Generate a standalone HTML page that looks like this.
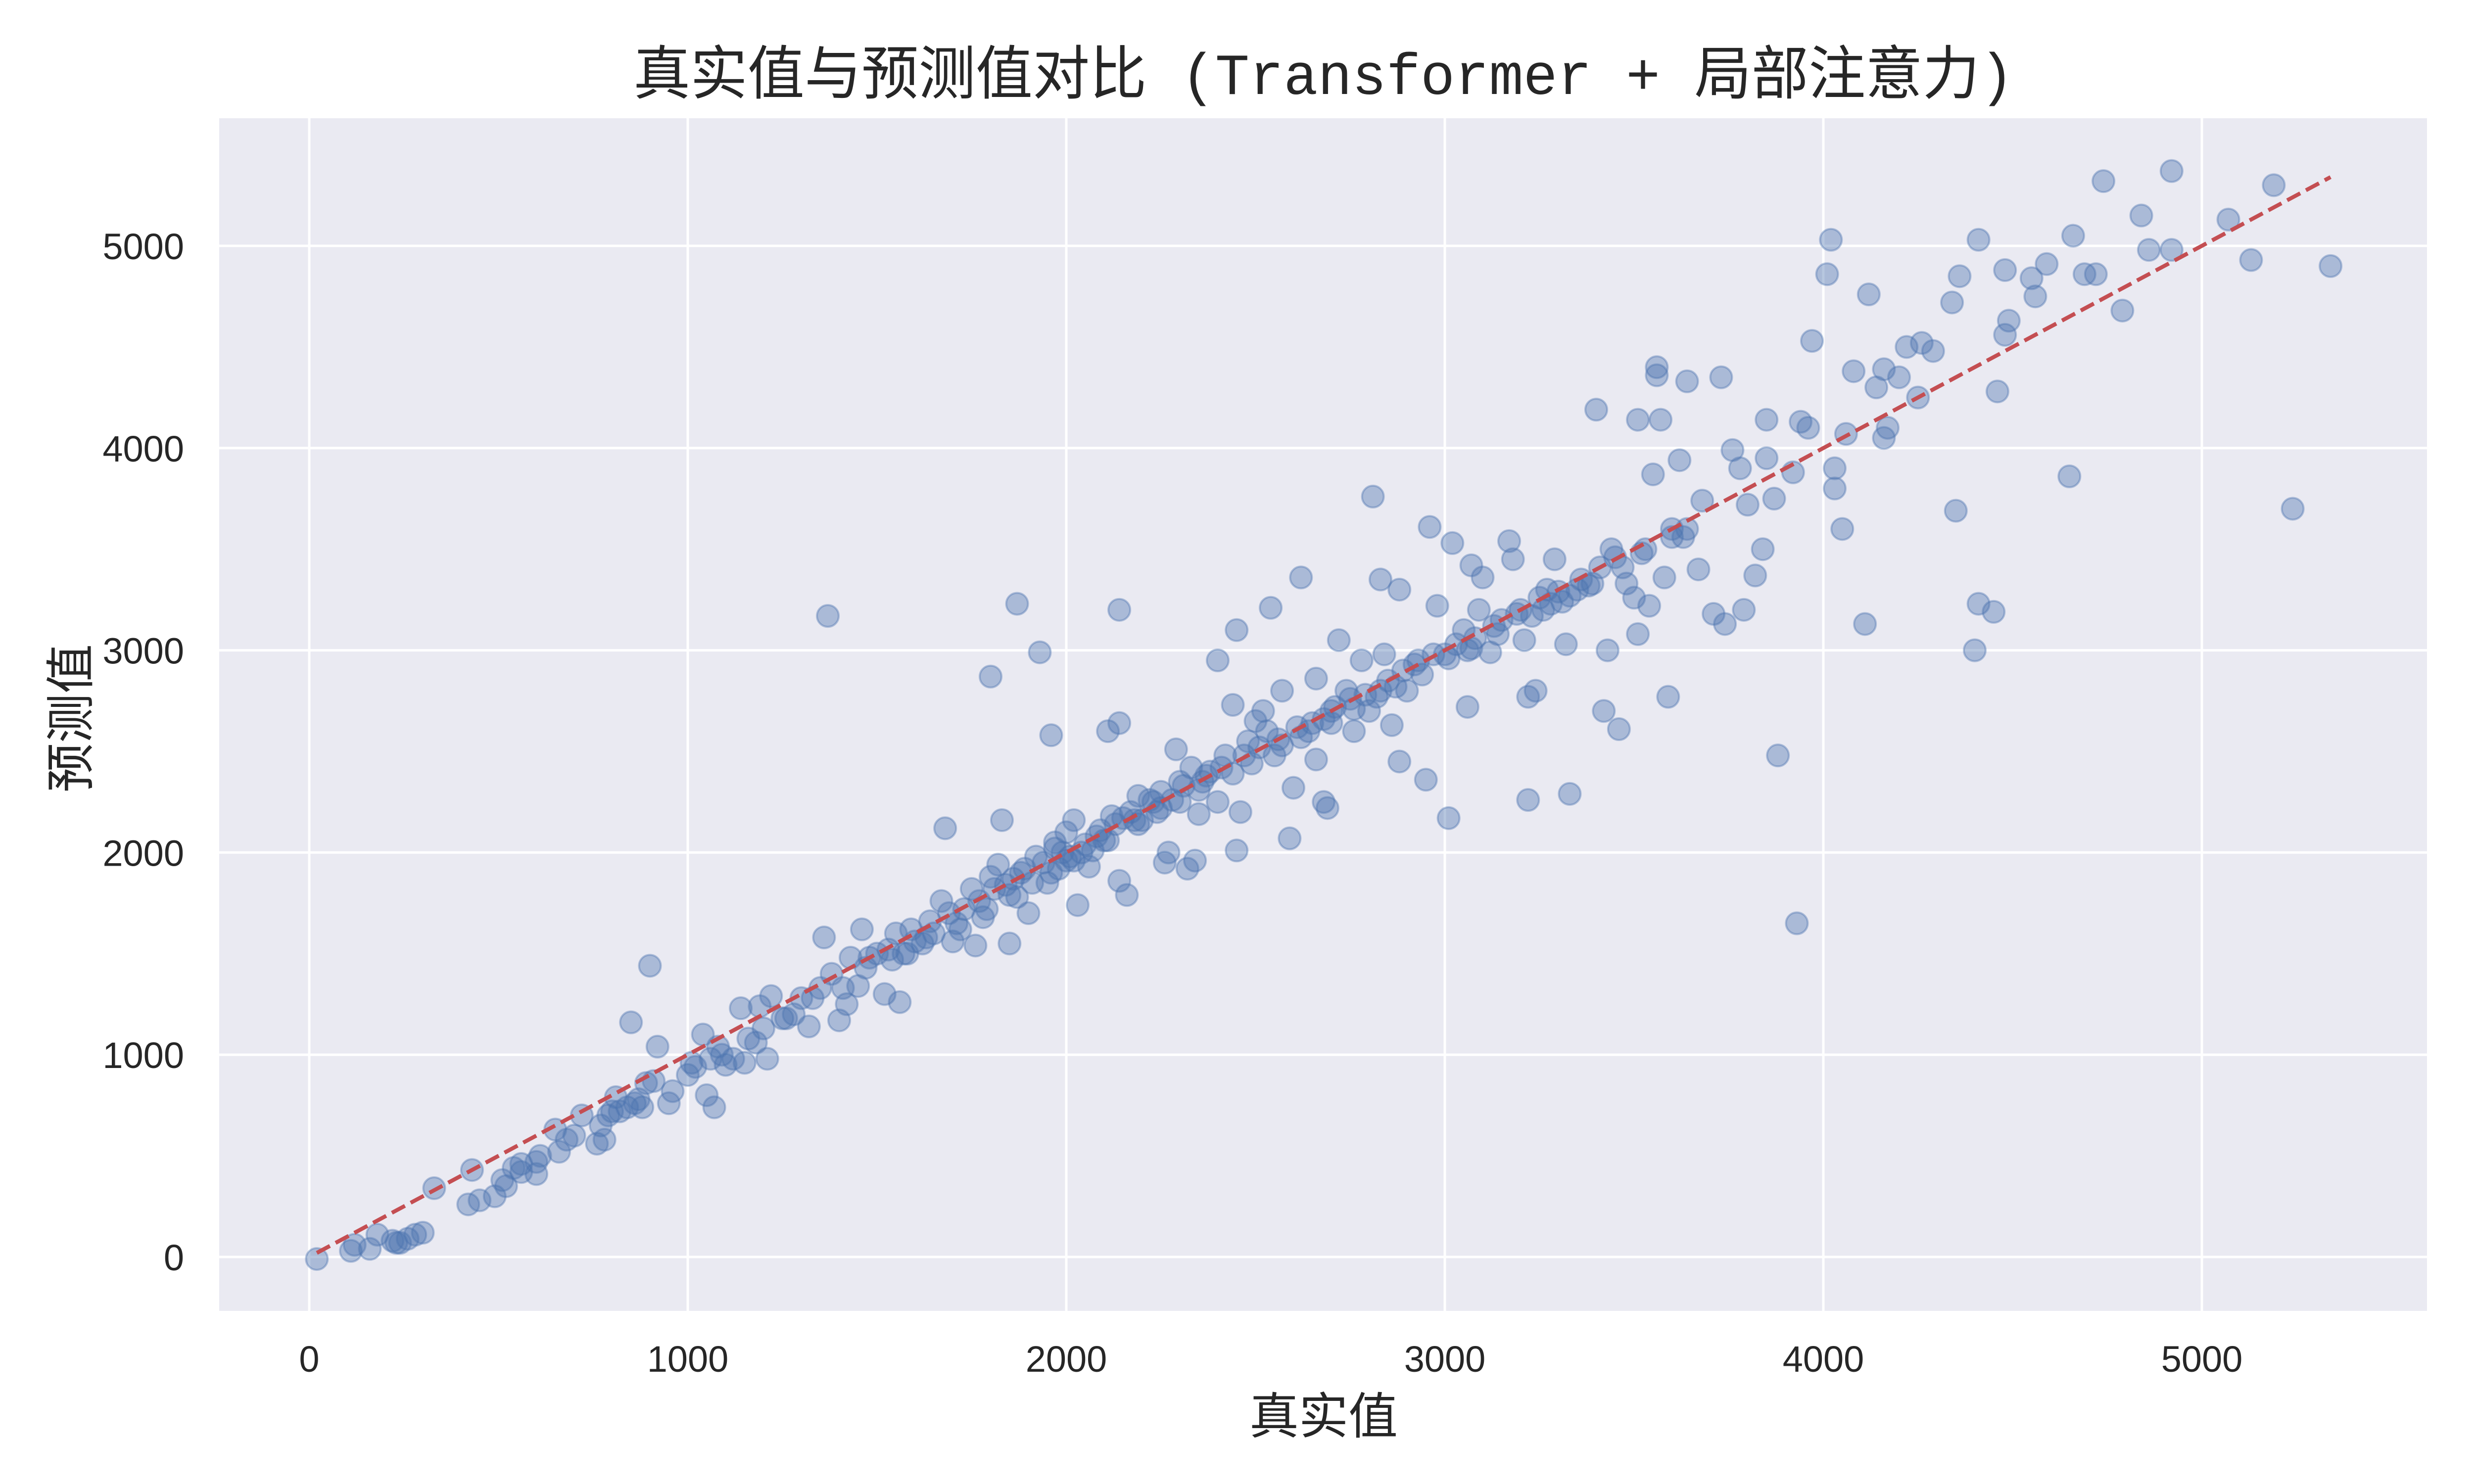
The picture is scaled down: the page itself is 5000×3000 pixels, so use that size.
<!DOCTYPE html>
<html><head><meta charset="utf-8"><style>
html,body{margin:0;padding:0;background:#fff;}
svg{display:block;}
text{fill:#262626;}
.lbl{font-family:"Liberation Sans","Noto Sans CJK SC",sans-serif;}
</style></head><body>
<svg id="chart" width="5000" height="3000" xmlns="http://www.w3.org/2000/svg">
<rect x="443" y="239" width="4462" height="2411" fill="#eaeaf2"/>
<g id="grid"></g>
<g id="points"></g>
<g id="ref"></g>
<g id="ticks"></g>
<text x="2675" y="190" font-size="118" text-anchor="middle" textLength="2790" lengthAdjust="spacingAndGlyphs" style="font-family:'Liberation Mono','Noto Sans CJK SC',monospace;">真实值与预测值对比 (Transformer + 局部注意力)</text>
<text class="lbl" x="2675" y="2898" font-size="100" text-anchor="middle">真实值</text>
<text class="lbl" x="0" y="0" font-size="100" text-anchor="middle" transform="translate(178,1452) rotate(-90)">预测值</text>
</svg>
<script>
const xTicks=[0,1000,2000,3000,4000,5000];
const yTicks=[0,1000,2000,3000,4000,5000];
const actual=[20,110,160,120,180,220,240,260,280,300,330,420,430,450,490,510,520,540,560,600,600,610,650,660,680,700,760,770,780,790,810,820,840,850,860,880,890,900,910,920,950,960,1000,1020,1040,1050,1060,1070,1080,1100,1120,1140,1150,1180,1190,1200,1210,1220,1250,1280,1300,1320,1350,1360,1370,1380,1400,1420,1430,1450,1460,1500,1520,1540,1550,1560,1580,1600,1620,1650,1670,1680,1700,1720,1750,1760,1780,1800,1800,1820,1830,1840,1850,1870,1870,1880,1900,1920,1930,1950,1960,1970,1980,2000,2010,2020,2030,2040,2060,2080,2100,2110,2130,2140,2140,2140,2160,2170,2190,2200,2220,2250,2260,2270,2290,2300,2320,2330,2340,2350,2370,2400,2400,2420,2440,2450,2450,2460,2480,2500,2520,2540,2550,2570,2590,2600,2620,2640,2660,2660,2680,2690,2700,2720,2740,2760,2780,2800,2810,2830,2840,2860,2880,2880,2900,2920,2950,2960,2980,3000,3010,3020,3050,3060,3070,3090,3100,3120,3150,3170,3180,3200,3210,3220,3220,3240,3260,3270,3290,3310,3320,3330,3350,3380,3400,3420,3430,3440,3460,3480,3500,3510,3510,3530,3540,3550,3560,3560,3570,3580,3590,3600,3620,3630,3640,3670,3680,3710,3730,3740,3760,3780,3790,3800,3820,3840,3850,3850,3870,3880,3920,3930,3940,3960,3970,4010,4020,4030,4030,4050,4060,4080,4110,4120,4140,4160,4160,4170,4200,4220,4250,4260,4290,4340,4350,4360,4400,4410,4410,4450,4460,4480,4480,4490,4550,4560,4590,4650,4660,4690,4720,4740,4790,4840,4860,4920,4920,5070,5130,5190,5240,5340,
1480,1530,1590,1640,1690,1730,1770,1810,1860,1890,1940,1990,2050,2090,2150,2180,2230,2280,2310,2360,2410,2470,2510,2560,2610,2650,2710,2750,2790,2850,2890,2930,2970,3030,3080,3130,3190,3250,3300,3360,3410,3450,1970,2020,2120,2250,2380,2530,2680,2830,3060,
230,560,720,800,870,1010,1090,1160,1260,1330,1410,1470,1570,1630,1710,1790,1850,1910,1960,2000,2070,2110,2190,2240,2300,2350,2440,2490,2570,2620,2700,2760,2820,2870,2940,3010,3070,3140,3230,3280,3330,3390,3470,3520,3600,3640];
const predicted=[-10,30,40,60,110,80,70,90,110,120,340,260,430,280,300,380,350,440,420,470,410,500,630,520,580,600,560,650,580,700,790,720,740,1160,760,740,860,1440,870,1040,760,820,900,940,1100,800,980,740,1040,950,980,1230,960,1060,1240,1130,980,1290,1180,1200,1280,1140,1330,1580,3170,1400,1170,1250,1480,1340,1620,1500,1300,1470,1600,1260,1500,1560,1550,1600,1760,2120,1560,1620,1820,1540,1680,1880,2870,1940,2160,1840,1550,1780,3230,1900,1700,1980,2990,1850,2580,2050,1920,2100,1980,2160,1740,2000,1930,2080,2060,2600,2140,1860,3200,2640,1790,2200,2280,2160,2260,2300,1950,2000,2510,2350,1920,2420,1960,2190,2380,2950,2250,2480,2730,3100,2010,2200,2550,2650,2700,3210,2480,2800,2070,2320,3360,2600,2460,2860,2250,2220,2700,3050,2800,2600,2950,2700,3760,3350,2980,2630,2450,3300,2800,2930,2360,3610,3220,2980,2170,3530,3100,2720,3420,3200,3360,2990,3150,3540,3450,3200,3050,2770,2260,2800,3200,3300,3450,3240,3030,2290,3300,3320,4190,2700,3000,3500,2610,3330,3260,4140,3080,3500,3220,3870,4400,4360,4140,3360,2770,3600,3940,3560,4330,3400,3740,3180,4350,3130,3990,3900,3200,3720,3370,3500,4140,3950,3750,2480,3880,1650,4130,4100,4530,4860,5030,3900,3800,3600,4070,4380,3130,4760,4300,4390,4050,4100,4350,4500,4250,4520,4480,4720,3690,4850,3000,5030,3230,3190,4280,4880,4560,4630,4840,4750,4910,3860,5050,4860,4860,5320,4680,5150,4980,5370,4980,5130,4930,5300,3700,4900,
1480,1520,1620,1660,1700,1720,1760,1820,1870,1920,1950,2000,2040,2110,2170,2160,2250,2260,2330,2350,2420,2480,2520,2560,2620,2640,2720,2760,2780,2850,2900,2950,2980,3030,3060,3120,3180,3260,3290,3350,3410,3460,2020,1960,2180,2220,2400,2600,2660,2800,3000,
70,460,700,720,780,960,1000,1080,1180,1280,1330,1430,1500,1580,1650,1720,1790,1850,1900,1960,2010,2060,2140,2200,2250,2310,2390,2440,2530,2570,2640,2710,2770,2820,2880,2960,3010,3080,3170,3230,3270,3330,3410,3480,3560,3600];
const NS="http://www.w3.org/2000/svg";
const PL=443,PR=4905,PT=239,PB=2650;
function sx(v){return 625+v*0.765;}
function sy(v){return 2541-v*0.4088;}
function mk(tag,attrs,parent){const e=document.createElementNS(NS,tag);for(const k in attrs)e.setAttribute(k,attrs[k]);parent.appendChild(e);return e;}
const grid=document.getElementById('grid'),ticks=document.getElementById('ticks');
xTicks.forEach(t=>{
 const l=mk('line',{x1:sx(t),x2:sx(t),y1:PT,y2:PB,stroke:'#fff','stroke-width':5},grid);
 
 
 const tx=mk('text',{x:sx(t),y:2773,'font-size':74,'text-anchor':'middle','class':'lbl'},ticks);
 tx.textContent=t;
 
 
});
yTicks.forEach(t=>{
 const l=mk('line',{x1:PL,x2:PR,y1:sy(t),y2:sy(t),stroke:'#fff','stroke-width':5},grid);
 
 
 const tx=mk('text',{x:372,y:sy(t)+27,'font-size':74,'text-anchor':'end','class':'lbl'},ticks);
 tx.textContent=t;
 
 
});
const pts=document.getElementById('points');
for(let i=0;i<actual.length;i++){
 const c=mk('circle',{cx:sx(actual[i]),cy:sy(predicted[i]),r:22,fill:'#4c72b0','fill-opacity':0.4,stroke:'#4c72b0','stroke-opacity':0.4,'stroke-width':4},pts);
 
 
}
const mn=Math.min(...actual),mx=Math.max(...actual);
const ln=mk('line',{x1:sx(mn),y1:sy(mn),x2:sx(mx),y2:sy(mx),stroke:'#c44e52','stroke-width':8,'stroke-dasharray':'30 13'},document.getElementById('ref'));


</script>
</body></html>
